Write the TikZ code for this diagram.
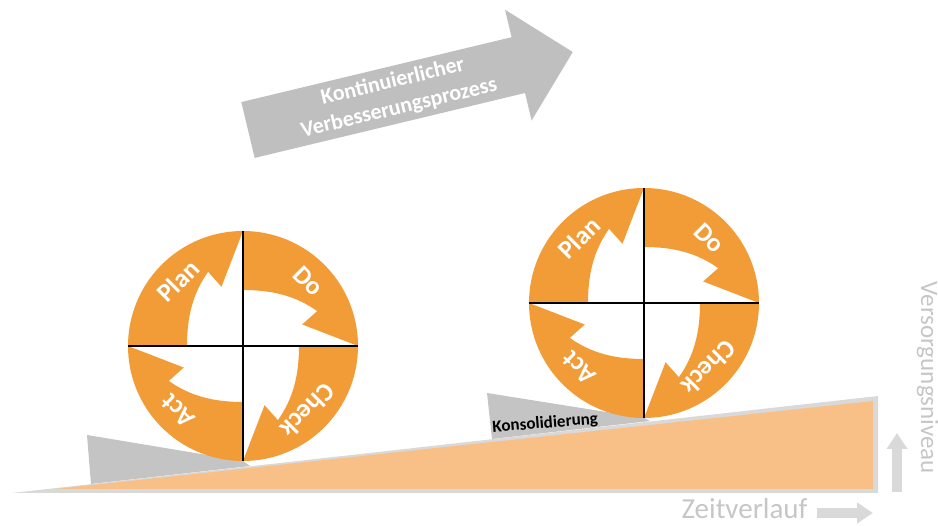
\documentclass[tikz,border=0pt]{standalone}
\usepackage{fontspec}
\setmainfont{Carlito}
\usetikzlibrary{arrows.meta}
\definecolor{pdcaorange}{HTML}{F29C38}
\definecolor{rampfill}{HTML}{F8BF86}
\definecolor{rampedge}{HTML}{D9D9D9}
\definecolor{wedgegray}{HTML}{C4C4C4}
\definecolor{arrowgray}{HTML}{BFBFBF}
\definecolor{axisgray}{HTML}{C6C6C6}

\tikzset{
  wheellabel/.style={text=white, inner sep=0pt, font=\bfseries\fontsize{26}{26}\selectfont},
  crossline/.style={line width=1.8pt, black},
  axisarrow/.style={color=rampedge, line width=9.5pt, -{Triangle[length=16pt,width=20pt]}},
  axislabel/.style={text=axisgray, inner sep=0pt},
  pdca/.pic={
    \foreach \lbl/\a in {Plan/180,Do/90,Check/0,Act/-90}{
      \fill[pdcaorange] (\a:115) arc[start angle=\a, end angle=\a-90, radius=115]
        -- (\a-70:63) -- (\a-65:81)
        -- plot[domain=65:0, samples=14, variable=\t] ({\a-\t}:{56+0.0062*\t*\t}) -- cycle;
      \node[wheellabel, rotate=\a-135] (-\lbl) at (\a-45:92) {\lbl};
    }
    \draw[crossline] (-115,0) -- (115,0) (0,115) -- (0,-115);
  }
}

\begin{document}
\begin{tikzpicture}[x=1pt, y=1pt]
  \useasboundingbox (0,0) rectangle (938,-526);
  \fill[rampedge] (12,-493) -- (878,-396) -- (878,-493) -- cycle;
  \fill[rampfill] (55,-489) -- (873,-401) -- (873,-489) -- cycle;
  \fill[wedgegray] (87,-435) -- (91,-484) -- (250,-466) -- (243,-461) -- cycle;
  \fill[wedgegray] (487,-393) -- (492,-439) -- (650,-421) -- (644,-418) -- cycle;
  \node[font=\bfseries\fontsize{17}{17}\selectfont, rotate=4.5, anchor=base, inner sep=0pt] (kons) at (545.5,-428) {Konsolidierung};
  \pic (wheelleft) at (243,-346) {pdca};
  \pic (wheelright) at (644,-303) {pdca};
  \fill[arrowgray, shift={(248,-130)}, rotate=13.5] (0,-28.7) -- (278,-28.7) -- (278,-57) -- (334,0) -- (278,57) -- (278,28.7) -- (0,28.7) -- cycle;
  \node[text=white, align=center, rotate=13.5, inner sep=0pt, font=\bfseries\fontsize{22}{27}\selectfont] (kvp) at (396,-95) {Kontinuierlicher\\Verbesserungsprozess};
  \node[axislabel, anchor=base, font=\fontsize{29}{29}\selectfont] (zeit) at (744.5,-519) {Zeitverlauf};
  \node[axislabel, anchor=base, rotate=-90, font=\fontsize{25}{25}\selectfont] (niveau) at (921,-378) {Versorgungsniveau};
  \coordinate (zeitstart) at (817,-513);
  \coordinate (zeitend) at (873,-513);
  \coordinate (niveaustart) at (897,-492);
  \coordinate (niveauend) at (897,-433);
  \draw[axisarrow] (zeitstart) -- (zeitend);
  \draw[axisarrow] (niveaustart) -- (niveauend);
\end{tikzpicture}
\end{document}
